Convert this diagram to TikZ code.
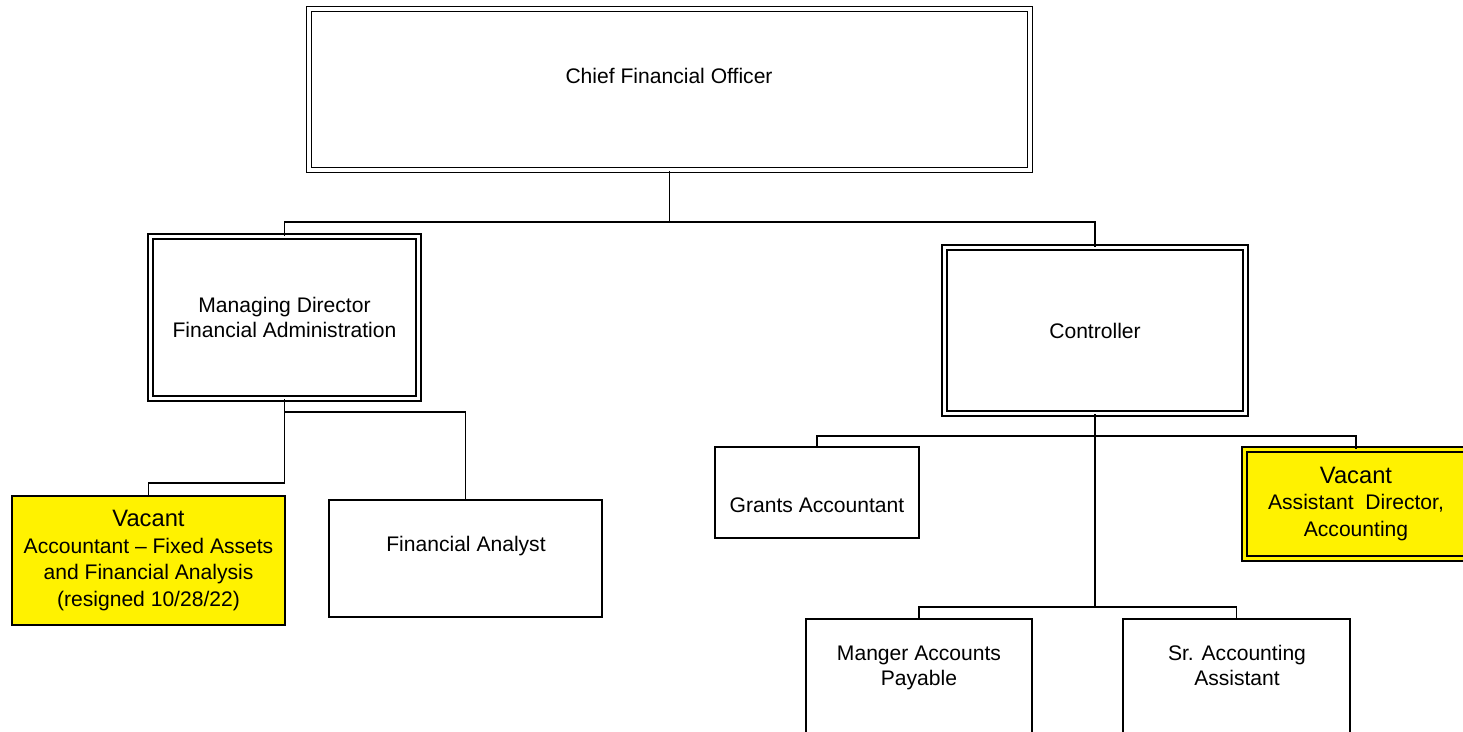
\documentclass[tikz,border=0pt]{standalone}
\usepackage{fontspec}
\setmainfont{Liberation Sans}
\begin{document}
\begin{tikzpicture}[x=0.02cm,y=-0.02cm,line width=0.9pt,
  font=\fontsize{12}{14.2}\selectfont,
  post/.style={draw,rectangle,inner sep=0pt,fill=white},
  headpost/.style={post,double,double distance=2pt},
  vacantpost/.style={fill=yellow,font=\fontsize{12}{15}\selectfont}]
\clip (0,0) rectangle (1463,732);
% boxes
\node[headpost,minimum width=14.42cm,minimum height=3.22cm] (cfo) at (669.5,89.5) {};
\node (cfo-t) at (669,76) {Chief Financial Officer};
\node[headpost,minimum width=5.36cm,minimum height=3.24cm,align=center] (mdfa) at (284.5,317.5) {Managing Director\\Financial Administration};
\node[headpost,minimum width=6.02cm,minimum height=3.32cm] (ctrl) at (1095,330.5) {Controller};
\node[post,vacantpost,minimum width=5.46cm,minimum height=2.58cm,align=center] (accfa) at (148.5,560.5) {{\fontsize{13.5}{16}\selectfont Vacant}\\Accountant -- Fixed Assets\\and Financial Analysis\\(resigned 10/28/22)};
\node[post,minimum width=5.46cm,minimum height=2.34cm] (fanalyst) at (465.5,558.5) {};
\node (fanalyst-t) at (466,546) {Financial Analyst};
\node[post,minimum width=4.08cm,minimum height=1.82cm] (grants) at (817,492.5) {};
\node (grants-t) at (817,505) {Grants Accountant};
\node[headpost,vacantpost,double=yellow,minimum width=4.46cm,minimum height=2.18cm,align=center] (asstdir) at (1356,504) {{\fontsize{13.5}{16}\selectfont Vacant}\\Assistant\ \ Director,\\Accounting};
\node[post,minimum width=4.52cm,minimum height=3.22cm] (mgrap) at (919,699.5) {};
\node[align=center] (mgrap-t) at (919,668) {Manger Accounts\\Payable};
\node[post,minimum width=4.54cm,minimum height=3.22cm] (srasst) at (1236.5,699.5) {};
\node[align=center] (srasst-t) at (1237,665) {Sr. Accounting\\Assistant};
% connectors
\coordinate (cfobus) at (669.5,222);
\draw (cfo.south) -- (cfobus);
\draw (cfobus) -| (mdfa.north);
\draw (cfobus) -| (ctrl.north);
\coordinate (mdbus1) at (284.5,412);
\coordinate (mdbus2) at (284.5,483);
\draw (mdfa.south) -- (mdbus2) -| (accfa.north);
\draw (mdbus1) -| (fanalyst.north);
\coordinate (ctbus1) at (1095,436);
\coordinate (ctbus2) at (1095,607);
\draw (ctrl.south) -- (ctbus2);
\draw (ctbus1) -| (grants.north);
\draw (ctbus1) -| (asstdir.north);
\draw (ctbus2) -| (mgrap.north);
\draw (ctbus2) -| (srasst.north);
\end{tikzpicture}
\end{document}
